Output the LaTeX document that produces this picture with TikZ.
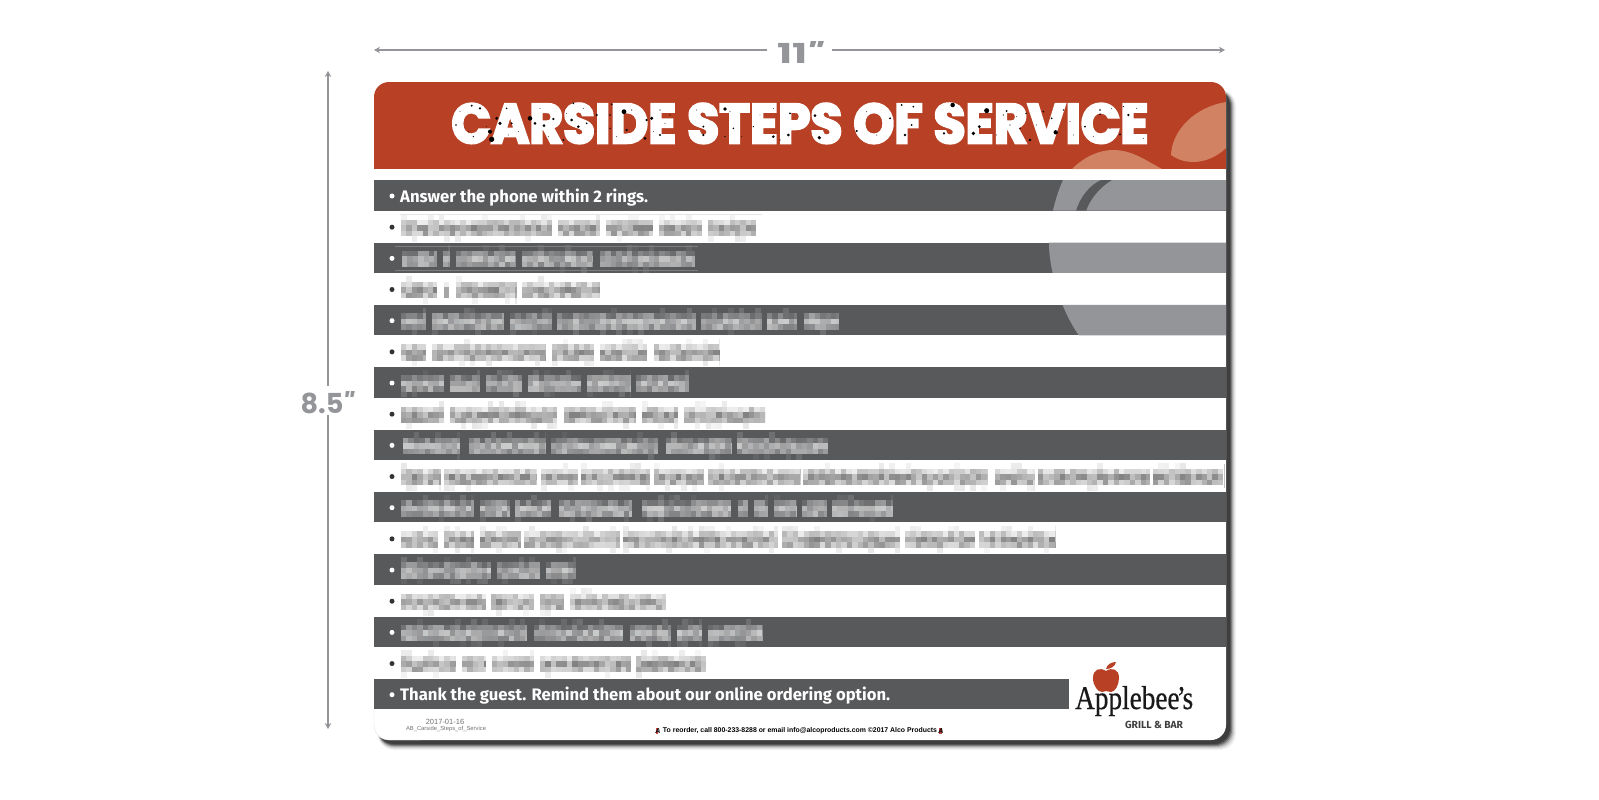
\documentclass[tikz,border=0pt]{standalone}
\usepackage{fontspec}
\usetikzlibrary{arrows.meta}
\setmainfont{Liberation Sans}
\newfontfamily\titlef{Poppins}[BoldFeatures={FakeBold=4.5}]
\newfontfamily\dimf{Poppins}
\newfontfamily\bodyf{Fira Sans}
\newfontfamily\logof{Liberation Serif}[FakeBold=.6]
\definecolor{bardark}{HTML}{58595B}
\definecolor{bargray}{HTML}{939598}
\definecolor{brick}{HTML}{B84024}
\definecolor{peach}{HTML}{D08263}
\definecolor{dimgray}{HTML}{939598}
\tikzset{
  barbox/.style={fill=bardark,draw=none},
  dimline/.style={draw=dimgray,line width=1.5pt,-{Stealth[length=6pt,width=6.5pt]}},
  dimlabel/.style={text=dimgray,inner sep=0pt,font=\dimf\bfseries\fontsize{28}{30}\selectfont},
  linetext/.style={anchor=base west,inner sep=0pt,text=white},
  smalltext/.style={inner sep=0pt,font=\fontsize{7.5}{9}\selectfont},
}
\newcommand{\blurrow}[3]{%
  \foreach \a/\b in {#3} {%
    \pgfmathtruncatemacro{\n}{(\b-\a)/5.4}%
    \foreach \i in {0,...,\n} {%
      \pgfmathsetmacro{\xa}{\a+\i*5.4}%
      \pgfmathsetmacro{\xb}{min(\xa+5.5,\b)}%
      \foreach \r in {-2,-1,0,1,2} {%
        \pgfmathsetmacro{\ya}{#1+1+\r*5.5-2.75}%
        \pgfmathsetmacro{\yb}{\ya+5.5}%
        \pgfmathtruncatemacro{\show}{(abs(\r)<2 || rnd<0.16) ? 1 : 0}%
        \ifnum\show=1
          \ifnum#2=0
            \pgfmathtruncatemacro{\v}{\r==0 ? 22+28*rnd : (\r==1 ? 14+28*rnd : (\r==-1 ? 7+22*rnd : 4+6*rnd))}%
            \fill[black!\v] (\xa,\ya) rectangle (\xb,\yb);%
          \else
            \pgfmathtruncatemacro{\v}{\r==0 ? 35+35*rnd : (\r==1 ? 25+35*rnd : (\r==-1 ? 10+35*rnd : 5+10*rnd))}%
            \fill[white!\v!bardark] (\xa,\ya) rectangle (\xb,\yb);%
          \fi
        \fi
      }%
    }%
  }%
}
\begin{document}
\begin{tikzpicture}[x=1pt,y=-1pt]
\useasboundingbox (0,0) rectangle (1599,800);
\fill[white] (0,0) rectangle (1599,800);
\pgfmathsetseed{20170116}

% dimensions
\coordinate (wl) at (374,50);
\coordinate (wr) at (1225,50);
\node[dimlabel,minimum width=65pt,minimum height=26pt] (wlab) at (799.5,52.5)
  {\resizebox{45pt}{22pt}{11\kern-.04em{\itshape"}}};
\draw[dimline] (wlab.west |- wl) -- (wl);
\draw[dimline] (wlab.east |- wr) -- (wr);
\coordinate (ht) at (328,71);
\coordinate (hb) at (328,729);
\coordinate (hgt) at (328,386);
\coordinate (hgb) at (328,415);
\node[dimlabel,minimum width=54pt,minimum height=22pt] (hlab) at (327,403)
  {\resizebox{53pt}{22pt}{8.5\kern-.04em{\itshape"}}};
\draw[dimline] (hgt) -- (ht);
\draw[dimline] (hgb) -- (hb);

% card shadow
\foreach \d/\o in {10/.05,9/.08,8/.12,7/.2,6/.35,5/.5,4/.7}{
  \fill[black!80,opacity=\o,rounded corners=16pt] (378,90) rectangle (1226+\d,740+\d);
}
% card
\fill[white,rounded corners=15pt] (374,82) rectangle (1226,740);
\draw[black!12,line width=.4pt,rounded corners=15pt] (374,710) -- (374,740) -- (420,740);

% header
\begin{scope}
  \clip[rounded corners=15pt] (374,82) rectangle (1226,200);
  \fill[brick] (374,82) rectangle (1226,169);
  \fill[peach] (1226,102) .. controls (1195,107) and (1172,130) .. (1171,155)
     .. controls (1178,160) and (1186,162) .. (1193,162)
     .. controls (1206,162) and (1218,156) .. (1226,148) -- cycle;
  \fill[peach] (1072,169) .. controls (1085,156) and (1100,150) .. (1113,150)
     .. controls (1132,150) and (1145,160) .. (1162,169) -- cycle;
\end{scope}
\node[anchor=base,inner sep=0pt,text=white] (title) at (800,143)
  {\resizebox{697pt}{39.5pt}{\titlef\bfseries CARSIDE STEPS OF SERVICE}};
% speckle on the title
\foreach \x/\y/\s in {95/32/.9,120/40/1,48/90/.7,100/125/.6,155/133/2.2,150/110/1.7,170/70/1.3,180/85/1.4,215/85/.9,200/40/.7,270/70/1.9,285/85/1.2,312/92/1.2,340/72/1,395/75/1.2,370/135/.9,415/95/1.2,440/85/.8,400/25/.8,470/60/.9,510/60/.8,552/50/2,560/105/1,510/100/.6,515/28/.8,635/70/1.4,620/75/1,615/130/1.2,660/120/.9,690/60/.6,660/45/.5,855/42/1.5,790/95/.9,790/120/1,880/100/.7,855/125/.6,940/95/.6,1000/125/1.2,1045/120/1.2,1020/135/.6,1050/55/.8,60/50/.4,85/110/.4,140/95/.4,205/120/.4,235/110/.4,300/40/.4,325/125/.4,380/55/.4,430/40/.4,465/110/.4,530/125/.4,575/45/.5,640/110/.4,675/85/.4,770/45/.4,810/75/.4,870/50/.4,905/125/.4,960/60/.4,1000/40/.4}{
  \fill[black] ({440+\x/3},{95+\y/3}) circle ({1.2*\s});
}
\foreach \x/\y/\s in {75/62/1.2,88/128/1.5,200/108/.9,300/70/.9,335/30/.8,370/35/.8,365/90/.8,345/120/1.1,488/30/1.9,590/47/2.1,568/95/1.3,550/115/1.6,462/115/1,650/48/.8,690/100/.7,720/135/1.2,708/55/.7,760/50/.7,785/70/.8,797/112/1.8,820/45/.7,930/45/.8,930/58/.7,885/95/.8,990/118/.8,1015/60/1.1,1000/35/.5,640/60/.5,660/90/.5,840/80/.4,960/100/.4,1040/40/.4,1060/130/.4,230/50/.4,260/120/.4,620/120/.4,680/65/.4,740/90/.4,850/120/.4,910/125/.4,965/40/.4}{
  \fill[black] ({790+\x/3},{95+\y/3}) circle ({1.2*\s});
}

% bars
\foreach \k in {0,2,...,14}{
  \fill[barbox] (374,{180.2+31.17*\k}) rectangle (1226,{180.2+31.17*\k+30.4});
}
\fill[barbox] (374,678.9) rectangle (1069,709.3);

% apple on the top bars
\begin{scope}
  \clip (374,180.2) rectangle (1226,210.6) (374,242.5) rectangle (1226,272.9) (374,304.9) rectangle (1226,335.3);
  \fill[bargray] (1063,180) .. controls (1055,198) and (1049,222) .. (1049,243)
     .. controls (1049,272) and (1062,312) .. (1079,335.5) -- (1226,335.5) -- (1226,180) -- cycle;
  \fill[bardark] (1101,180) .. controls (1090,185) and (1080,197) .. (1076,211)
     -- (1086,211) .. controls (1090,199) and (1100,187) .. (1112,180) -- cycle;
\end{scope}

% bullets
\foreach \k in {0,1,...,16}{
  \pgfmathtruncatemacro{\odd}{mod(\k,2)}
  \ifnum\odd=0
    \fill[white] (392,{196+31.17*\k}) circle (2.5pt);
  \else
    \fill[black!80] (392,{196+31.17*\k}) circle (2.5pt);
  \fi
}

% the two legible lines
\node[linetext] (first) at (400,202.8) {\resizebox{248pt}{!}{\bodyf\bfseries Answer the phone within 2 rings.}};
\node[linetext] (last) at (400,700.8) {\resizebox{490pt}{!}{\bodyf\bfseries Thank the guest. Remind them about our online ordering option.}};

% obscured lines (pixelated in the source)
\blurrow{226.8}{0}{401/552,558/600,606/653,659/702,708/756}
\blurrow{257.9}{1}{402/437,443/450,456/516,522/593,600/695}
\blurrow{289.1}{0}{401/437,444/449,456/517,522/600}
\blurrow{320.3}{1}{401/426,432/504,510/552,557/696,701/762,767/797,804/839}
\blurrow{351.4}{0}{401/426,432/546,552/594,600/647,654/719}
\blurrow{382.6}{1}{401/444,450/480,486/522,528/581,587/631,636/689}
\blurrow{413.8}{0}{401/444,450/557,564/636,642/678,684/765}
\blurrow{445}{1}{403/460,469/545,551/658,666/732,737/828}
\blurrow{476.1}{0}{401/441,444/537,541/578,581/650,654/704,708/800,803/987,995/1035,1038/1150,1153/1223}
\blurrow{507.3}{1}{401/474,480/510,515/551,559/632,642/731,738/748,754/768,774/796,802/827,832/893}
\blurrow{538.5}{0}{401/438,444/474,480/521,524/620,623/778,782/900,905/975,979/1056}
\blurrow{569.6}{1}{401/491,497/540,546/576}
\blurrow{600.8}{0}{401/486,491/534,540/564,570/666}
\blurrow{632}{1}{401/527,534/623,630/671,677/702,708/763}
\blurrow{663.2}{0}{401/456,462/486,492/534,540/631,636/706}
\draw[black!10,line width=1pt] (400,214) -- (762,214);
\draw[white!22!bardark,line width=.8pt] (395,246.5) -- (698,246.5) (395,270) -- (698,270);
\draw[black!25,line width=.6pt] (1224.5,464) -- (1224.5,488);

% logo
\fill[brick] (1106,671) .. controls (1100,667) and (1093,669) .. (1093,678)
  .. controls (1093,686) and (1098,692) .. (1102,692)
  .. controls (1104,692) and (1105,691) .. (1106,691)
  .. controls (1108,691) and (1109,692) .. (1111,692)
  .. controls (1115,692) and (1119,685) .. (1119,678)
  .. controls (1119,669) and (1112,667) .. (1106,671) -- cycle;
\fill[brick] (1106,669) .. controls (1107,664) and (1112,662) .. (1116,662)
  .. controls (1115,667) and (1110,669) .. (1106,669) -- cycle;
\node[anchor=base west,inner sep=0pt,text=black!90] (brand) at (1075,709)
  {\resizebox{118pt}{23pt}{\logof Applebee\kern-.1em’\kern-.12em s}};
\node[anchor=base,inner sep=0pt,text=black!75] (grill) at (1154,728)
  {\resizebox{58pt}{!}{\bodyf\bfseries GRILL \& BAR}};

% footer
\node[smalltext,text=black!55,anchor=center] (date) at (445,722) {2017-01-16};
\node[smalltext,text=black!55,anchor=center,font=\fontsize{6}{7}\selectfont] (file) at (446,728.8)
  {\resizebox{80pt}{!}{AB\_Carside\_Steps\_of\_Service}};
\node[smalltext,text=black,anchor=center] (reorder) at (800,731)
  {\resizebox{274pt}{!}{\bfseries To reorder, call 800-233-8288 or email info@alcoproducts.com ©2017 Alco Products}};
\fill[red!70!black,opacity=.75] (655.5,728) rectangle (658,733.5);
\fill[red!70!black,opacity=.75] (939,728) rectangle (941.5,733.5);
\node[smalltext,text=black,font=\bfseries\itshape\fontsize{7}{8}\selectfont] (logoa) at (658,731) {A};
\node[smalltext,text=black,font=\bfseries\itshape\fontsize{7}{8}\selectfont] (logob) at (941,731) {A};
\end{tikzpicture}
\end{document}
